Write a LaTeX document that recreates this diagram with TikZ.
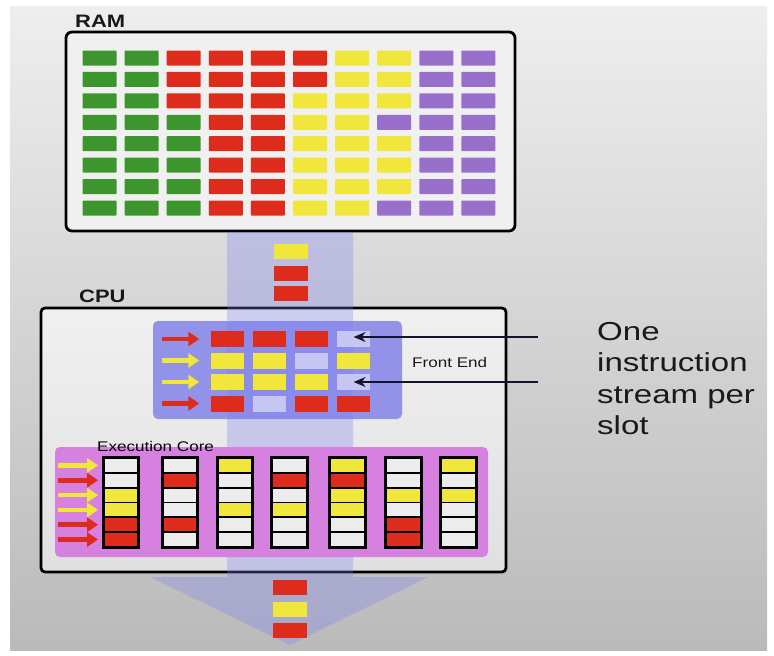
\documentclass[tikz,border=0pt]{standalone}
\usepackage{fontspec}
\setmainfont{Liberation Sans}
\newfontfamily\widesans[FakeStretch=1.22]{Liberation Sans}
\newfontfamily\widersans[FakeStretch=1.27]{Liberation Sans}
\usetikzlibrary{arrows.meta}
\definecolor{gG}{RGB}{60,150,45}
\definecolor{rR}{RGB}{222,44,28}
\definecolor{yY}{RGB}{240,230,60}
\definecolor{pP}{RGB}{152,112,204}
\definecolor{eE}{RGB}{198,198,242}
\definecolor{wW}{RGB}{236,236,236}
\definecolor{bandc}{RGB}{125,125,242}
\definecolor{fec}{RGB}{146,146,232}
\definecolor{exc}{RGB}{214,128,224}
\definecolor{bgtop}{RGB}{238,238,238}
\definecolor{bgbot}{RGB}{186,186,186}
\definecolor{navy}{RGB}{20,20,45}
\definecolor{txt}{RGB}{25,25,25}
\begin{document}
\begin{tikzpicture}[x=1pt,y=-1pt,
  ramcell/.style={minimum width=34pt, minimum height=15pt, inner sep=0pt, rounded corners=0.8pt},
  fecell/.style={minimum width=33pt, minimum height=16pt, inner sep=0pt},
  xcell/.style={draw=black, line width=1.8pt, minimum width=34pt, minimum height=14.83pt, inner sep=0pt},
  flowcell/.style={minimum width=34pt, minimum height=15pt, inner sep=0pt},
  blockarrow/.style={line width=4.6pt, -{Triangle[length=11pt,width=14pt]}},
  pointer/.style={draw=navy, line width=1.3pt, -{Stealth[length=12pt,width=10pt]}},
  boxlabel/.style={font=\widesans\bfseries\fontsize{18}{20}\selectfont, text=txt, inner sep=0pt, anchor=base west},
  smalllabel/.style={font=\widesans\fontsize{14}{16}\selectfont, text=txt, inner sep=0pt, anchor=base west}]
\useasboundingbox (0,0) rectangle (774,656);
% background panel
\shade[top color=bgtop, bottom color=bgbot] (10,6) rectangle (767,650);
% RAM box
\draw[line width=2.8pt, rounded corners=6pt, fill={rgb,255:red,240;green,240;blue,240}] (66,32) rectangle (515,231);
\node[boxlabel] (ramlabel) at (75,27) {RAM};
% CPU box
\draw[line width=2.8pt, rounded corners=4pt, top color={rgb,255:red,240;green,240;blue,240}, bottom color={rgb,255:red,224;green,224;blue,224}] (41,308) rectangle (506,572);
\node[boxlabel] (cpulabel) at (79,302) {CPU};
% front end box
\fill[fec, rounded corners=5pt] (153,321) rectangle (402,419);
% data band with arrow head
\fill[bandc, opacity=0.3] (227,232) -- (353,232) -- (353,577) -- (428,577) -- (290,645) -- (150,577) -- (227,577) -- cycle;
% execution core box
\fill[exc, rounded corners=5pt] (55,447) rectangle (488,557);
\node[smalllabel, text=black] (exlabel) at (97,451) {Execution Core};
\node[smalllabel] (felabel) at (412,367) {Front End};
% RAM cells
\foreach \row [count=\i] in {
  {gG,gG,rR,rR,rR,rR,yY,yY,pP,pP},
  {gG,gG,rR,rR,rR,rR,yY,yY,pP,pP},
  {gG,gG,rR,rR,rR,yY,yY,yY,pP,pP},
  {gG,gG,gG,rR,rR,yY,yY,pP,pP,pP},
  {gG,gG,gG,rR,rR,yY,yY,yY,pP,pP},
  {gG,gG,gG,rR,rR,yY,yY,yY,pP,pP},
  {gG,gG,gG,rR,rR,yY,yY,yY,pP,pP},
  {gG,gG,gG,rR,rR,yY,yY,pP,pP,pP}} {
  \foreach \c [count=\j] in \row {
    \node[ramcell, fill=\c] (ram-\i-\j) at ({99.5+42.1*(\j-1)},{58+21.43*(\i-1)}) {};
  }
}
% cells in transit
\node[flowcell, fill=yY] (in1) at (290.5,251) {};
\node[flowcell, fill=rR] (in2) at (290.5,273) {};
\node[flowcell, fill=rR] (in3) at (290.5,293.5) {};
\node[flowcell, fill=rR] (out1) at (290,587) {};
\node[flowcell, fill=yY] (out2) at (290,609) {};
\node[flowcell, fill=rR] (out3) at (290,630.5) {};
% front end cells and arrows
\foreach \row/\ac [count=\i] in {{rR,rR,rR,eE}/rR, {yY,yY,eE,yY}/yY, {yY,yY,yY,eE}/yY, {rR,eE,rR,rR}/rR} {
  \foreach \c [count=\j] in \row {
    \node[fecell, fill=\c] (fe-\i-\j) at ({227+42.2*(\j-1)},{339+21.5*(\i-1)}) {};
  }
  \coordinate (fa-\i) at (162,{339+21.5*(\i-1)});
  \draw[blockarrow, draw=\ac] (fa-\i) -- ([xshift=-11pt]fe-\i-1.west);
}
% execution core columns
\foreach \xx/\col [count=\k] in {121/{wW,wW,yY,yY,rR,rR}, 180/{wW,rR,wW,wW,rR,wW}, 235/{yY,wW,wW,yY,wW,wW}, 289.5/{wW,rR,wW,yY,wW,wW}, 347.5/{yY,rR,yY,yY,wW,wW}, 403.5/{wW,wW,yY,wW,rR,rR}, 458.5/{yY,wW,yY,wW,wW,wW}} {
  \foreach \c [count=\i] in \col {
    \node[xcell, fill=\c] (ex-\k-\i) at (\xx,{465.4+14.83*(\i-1)}) {};
  }
  \draw[line width=2.4pt] (ex-\k-1.north west) rectangle (ex-\k-6.south east);
}
\foreach \ac [count=\i] in {yY,rR,yY,yY,rR,rR} {
  \coordinate (xa-\i) at (58,{465.4+14.83*(\i-1)});
  \draw[blockarrow, draw=\ac] (xa-\i) -- ([xshift=-5pt]ex-1-\i.west);
}
% pointers from the note
\coordinate (s1) at (538,337);
\coordinate (s2) at (538,382);
\draw[pointer] (s1) -- (s1 -| fe-1-4.center);
\draw[pointer] (s2) -- (s2 -| fe-3-4.center);
\node[anchor=north west, align=left, inner sep=0pt, text=txt,
  font=\widersans\fontsize{26}{31.5}\selectfont] (note) at (597,322) {One\\instruction\\stream per\\slot};
\end{tikzpicture}
\end{document}
